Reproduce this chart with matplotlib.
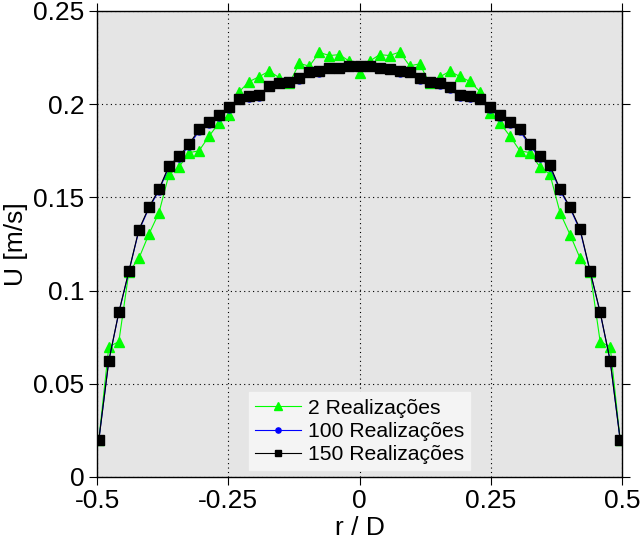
import matplotlib
matplotlib.use("Agg")
import matplotlib.pyplot as plt

plt.rcParams['font.family'] = ['Liberation Sans', 'DejaVu Sans']

# r/D positions (53 measurement points)
r_over_D = [-0.4966, -0.4775, -0.4584, -0.4393, -0.4202, -0.4011, -0.3820, -0.3629,
            -0.3438, -0.3247, -0.3056, -0.2865, -0.2674, -0.2483, -0.2292, -0.2101,
            -0.1910, -0.1719, -0.1528, -0.1337, -0.1146, -0.0955, -0.0764, -0.0573,
            -0.0382, -0.0191, 0.0000, 0.0191, 0.0382, 0.0573, 0.0764, 0.0955,
            0.1146, 0.1337, 0.1528, 0.1719, 0.1910, 0.2101, 0.2292, 0.2483,
            0.2674, 0.2865, 0.3056, 0.3247, 0.3438, 0.3629, 0.3820, 0.4011,
            0.4202, 0.4393, 0.4584, 0.4775, 0.4966]

u_2 = [0.0198, 0.0699, 0.0726, 0.1100, 0.1173, 0.1303, 0.1418, 0.1623, 0.1663, 0.1740,
       0.1750, 0.1829, 0.1900, 0.1942, 0.2067, 0.2121, 0.2148, 0.2178, 0.2142, 0.2112,
       0.2219, 0.2204, 0.2278, 0.2261, 0.2266, 0.2230, 0.2165, 0.2230, 0.2266, 0.2261,
       0.2280, 0.2206, 0.2216, 0.2112, 0.2146, 0.2177, 0.2149, 0.2122, 0.2068, 0.1951,
       0.1900, 0.1829, 0.1750, 0.1740, 0.1663, 0.1623, 0.1418, 0.1300, 0.1173, 0.1100,
       0.0726, 0.0699, 0.0198]

u_100 = [0.0196, 0.0622, 0.0882, 0.1102, 0.1322, 0.1442, 0.1537, 0.1664, 0.1713, 0.1777,
         0.1857, 0.1895, 0.1934, 0.1975, 0.2022, 0.2034, 0.2041, 0.2090, 0.2107, 0.2113,
         0.2132, 0.2166, 0.2170, 0.2188, 0.2192, 0.2199, 0.2200, 0.2199, 0.2192, 0.2186,
         0.2170, 0.2166, 0.2132, 0.2113, 0.2105, 0.2084, 0.2041, 0.2034, 0.2022, 0.1975,
         0.1934, 0.1895, 0.1857, 0.1777, 0.1714, 0.1664, 0.1537, 0.1442, 0.1323, 0.1102,
         0.0882, 0.0622, 0.0196]

u_150 = [0.0198, 0.0624, 0.0884, 0.1104, 0.1327, 0.1447, 0.1543, 0.1670, 0.1720, 0.1785,
         0.1865, 0.1903, 0.1942, 0.1983, 0.2030, 0.2042, 0.2049, 0.2096, 0.2115, 0.2121,
         0.2139, 0.2173, 0.2176, 0.2193, 0.2196, 0.2203, 0.2203, 0.2203, 0.2196, 0.2191,
         0.2176, 0.2173, 0.2139, 0.2121, 0.2113, 0.2092, 0.2049, 0.2042, 0.2030, 0.1983,
         0.1942, 0.1903, 0.1865, 0.1785, 0.1722, 0.1672, 0.1543, 0.1447, 0.1330, 0.1104,
         0.0884, 0.0624, 0.0198]

labels = ['2 Realizações', '100 Realizações', '150 Realizações']
x_ticks = [-0.5, -0.25, 0, 0.25, 0.5]
x_ticklabels = ['-0.5', '-0.25', '0', '0.25', '0.5']
y_ticks = [0, 0.05, 0.1, 0.15, 0.2, 0.25]
y_ticklabels = ['0', '0.05', '0.1', '0.15', '0.2', '0.25']

fig = plt.figure(figsize=(6.41, 5.45), dpi=100)
ax = fig.add_axes([97/641, 1-477/545, 525/641, 466/545])
ax.set_facecolor('#e5e5e5')

ax.plot(r_over_D, u_2, '-^', color=(0, 1, 0), lw=0.8, ms=7, mec=(0, 1, 0), mfc=(0, 1, 0), label=labels[0])
ax.plot(r_over_D, u_100, '-o', color=(0, 0, 1), lw=0.8, ms=5, mec=(0, 0, 1), mfc=(0, 0, 1), label=labels[1])
ax.plot(r_over_D, u_150, '-s', color='black', lw=0.8, ms=6.5, mec='black', mfc='black', label=labels[2])

ax.set_xlim(-0.5, 0.5)
ax.set_ylim(0, 0.25)
ax.set_xticks(x_ticks)
ax.set_xticklabels(x_ticklabels)
ax.set_yticks(y_ticks)
ax.set_yticklabels(y_ticklabels)
ax.tick_params(direction='out', length=6, width=0.8, labelsize=19, pad=3,
               top=True, right=True, colors='black')
ax.grid(True, linestyle=(0, (1, 3)), color='black', linewidth=0.8)
for s in ax.spines.values():
    s.set_linewidth(1.0)
    s.set_color('black')

ax.set_xlabel('r / D', fontsize=19, labelpad=2)
ax.set_ylabel('U [m/s]', fontsize=19, labelpad=4)

leg = ax.legend(loc='lower center', bbox_to_anchor=(0.5, 0.005), fontsize=15.2,
                frameon=True, fancybox=False, handlelength=2.2, handletextpad=0.3,
                borderpad=0.3, labelspacing=0.2, borderaxespad=0.2, markerscale=0.75)
leg.get_frame().set_facecolor('#f4f4f4')
leg.get_frame().set_edgecolor('#f4f4f4')
leg.get_frame().set_alpha(1)

fig.savefig('out.png', dpi=100)
